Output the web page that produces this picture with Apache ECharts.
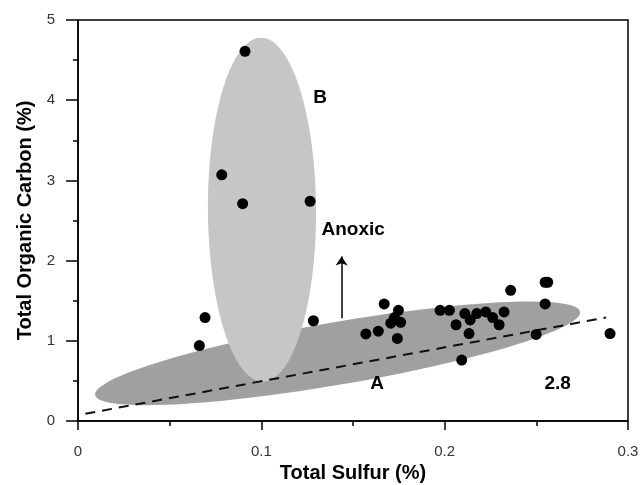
<!DOCTYPE html>
<html>
<head>
<meta charset="utf-8">
<script src="https://cdn.jsdelivr.net/npm/echarts@6/dist/echarts.min.js"></script>
<style>
  html, body { margin: 0; background: #fff; }
  #chart { width: 642px; height: 485px; }
</style>
</head>
<body>
<div id="chart"></div>
<script>
// samples: total sulfur (%) vs total organic carbon (%)
const sulfurPct = [0.0911, 0.0784, 0.0898, 0.1266, 0.0693, 0.0662, 0.1284, 0.167, 0.1748, 0.1726,
  0.1706, 0.176, 0.157, 0.1638, 0.1742, 0.1975, 0.2026, 0.211, 0.2062, 0.2139,
  0.2175, 0.2224, 0.2262, 0.2297, 0.2324, 0.2133, 0.2093, 0.236, 0.2548, 0.2562,
  0.2548, 0.2499, 0.2902]
const tocPct = [4.61, 3.07, 2.71, 2.74, 1.29, 0.94, 1.25, 1.46, 1.38, 1.29,
  1.22, 1.23, 1.085, 1.12, 1.03, 1.38, 1.38, 1.34, 1.2, 1.26,
  1.34, 1.36, 1.29, 1.2, 1.36, 1.09, 0.76, 1.63, 1.73, 1.73,
  1.46, 1.08, 1.09]

// fields: [tip1 S, tip1 TOC, tip2 S, tip2 TOC, half width, width axis (0 = x, 1 = y)]
const fieldA = [0.0093, 0.324, 0.2739, 1.363, 0.39, 1]
const fieldB = [0.0998, 4.78, 0.1009, 0.49, 0.0295, 0]

// dashed trend line
const trendLine = [[0.004, 0.09], [0.288, 1.29]]
// anoxic arrow
const arrowLine = [[0.1438, 1.28], [0.1438, 2.05]]

const notes = [
  { name: 'B', value: [0.132, 4.03] },
  { name: 'Anoxic', value: [0.1501, 2.39] },
  { name: 'A', value: [0.1631, 0.467] },
  { name: '2.8', value: [0.2616, 0.467] },
]

const font = 'Liberation Sans, Arial, sans-serif'

function ellipseItem(params, api) {
  const p1 = api.coord([api.value(0), api.value(1)])
  const p2 = api.coord([api.value(2), api.value(3)])
  const hw = api.value(5) === 0
    ? api.size([api.value(4), 0])[0]
    : api.size([0, api.value(4)])[1]
  const cx = (p1[0] + p2[0]) / 2
  const cy = (p1[1] + p2[1]) / 2
  const a = Math.hypot(p2[0] - p1[0], p2[1] - p1[1]) / 2
  const th = Math.atan2(p2[1] - p1[1], p2[0] - p1[0])
  const pts = []
  for (let i = 0; i < 90; i++) {
    const t = (i / 90) * Math.PI * 2
    const lx = a * Math.cos(t)
    const ly = hw * Math.sin(t)
    pts.push([cx + lx * Math.cos(th) - ly * Math.sin(th), cy + lx * Math.sin(th) + ly * Math.cos(th)])
  }
  return {
    type: 'polygon',
    shape: { points: pts },
    style: { fill: api.visual('color'), stroke: null },
  }
}

const chart = echarts.init(document.getElementById('chart'))
chart.setOption({
  animation: false,
  grid: {
    left: 78,
    right: 14,
    top: 20,
    bottom: 64,
    outerBoundsMode: 'none',
    show: true,
    borderColor: '#000',
    borderWidth: 1.5,
  },
  xAxis: {
    type: 'value',
    min: 0,
    max: 0.3,
    interval: 0.1,
    name: 'Total Sulfur (%)',
    nameLocation: 'middle',
    nameGap: 40,
    nameTextStyle: { fontFamily: font, fontSize: 20, fontWeight: 'bold', color: '#000' },
    axisLine: { lineStyle: { color: '#000', width: 1.5 } },
    axisTick: { length: 9, lineStyle: { color: '#000', width: 1.5 } },
    minorTick: { show: true, splitNumber: 2, length: 5, lineStyle: { color: '#000', width: 1.5 } },
    axisLabel: { margin: 23, fontFamily: font, fontSize: 15, color: '#333' },
    splitLine: { show: false },
  },
  yAxis: {
    type: 'value',
    min: 0,
    max: 5,
    interval: 1,
    name: 'Total Organic Carbon (%)',
    nameLocation: 'middle',
    nameGap: 42,
    nameTextStyle: { fontFamily: font, fontSize: 20, fontWeight: 'bold', color: '#000' },
    axisLine: { show: true, lineStyle: { color: '#000', width: 1.5 } },
    axisTick: { show: true, length: 12, lineStyle: { color: '#000', width: 1.5 } },
    minorTick: { show: true, splitNumber: 2, length: 5, lineStyle: { color: '#000', width: 1.5 } },
    axisLabel: { margin: 23, fontFamily: font, fontSize: 15, color: '#333' },
    splitLine: { show: false },
  },
  series: [
    {
      type: 'custom',
      renderItem: ellipseItem,
      data: [fieldA],
      itemStyle: { color: '#a0a0a0' },
      silent: true,
      z: 1,
    },
    {
      type: 'custom',
      renderItem: ellipseItem,
      data: [fieldB],
      itemStyle: { color: '#c6c6c6' },
      silent: true,
      z: 2,
    },
    {
      type: 'line',
      data: trendLine,
      symbol: 'none',
      lineStyle: { color: '#111', width: 2, type: [10, 7] },
      silent: true,
      z: 3,
    },
    {
      type: 'lines',
      coordinateSystem: 'cartesian2d',
      data: [{ coords: arrowLine }],
      symbol: ['none', 'arrow'],
      symbolSize: 9,
      lineStyle: { color: '#000', width: 1.5, opacity: 1 },
      silent: true,
      z: 3,
    },
    {
      type: 'scatter',
      data: sulfurPct.map((s, i) => [s, tocPct[i]]),
      symbol: 'circle',
      symbolSize: 11,
      itemStyle: { color: '#000', opacity: 1 },
      z: 5,
    },
    {
      type: 'scatter',
      data: notes,
      symbolSize: 0,
      itemStyle: { color: '#000', opacity: 1 },
      label: {
        show: true,
        position: 'inside',
        formatter: '{b}',
        fontFamily: font,
        fontSize: 19,
        fontWeight: 'bold',
        color: '#000',
      },
      silent: true,
      z: 6,
    },
  ],
})
</script>
</body>
</html>
